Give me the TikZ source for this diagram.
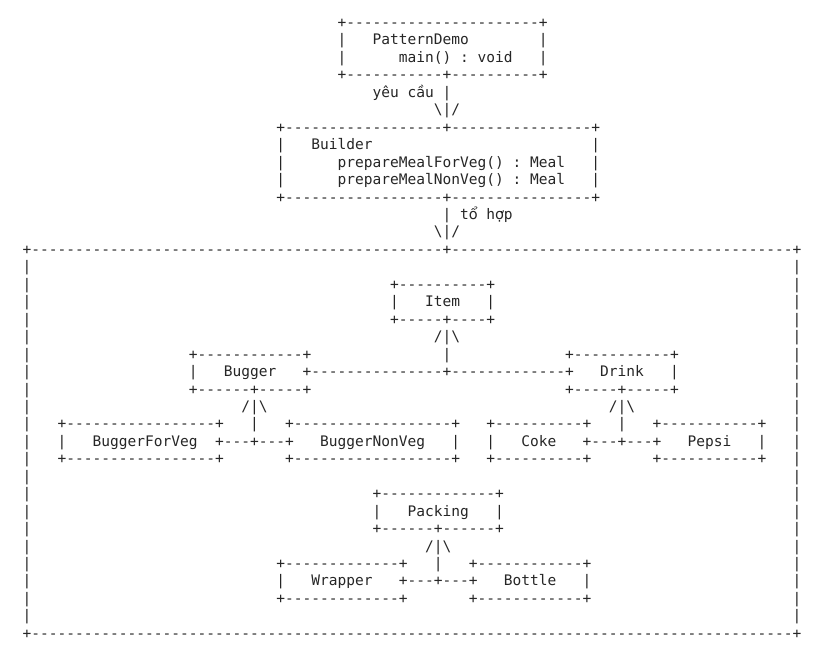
\documentclass[tikz,border=0pt]{standalone}
\usepackage{fontspec}
\setmonofont{DejaVu Sans Mono}
\newfontfamily\vnfont{DejaVu Sans}
\definecolor{ink}{RGB}{38,38,38}
\ExplSyntaxOn
\NewDocumentCommand\dsh{m}{\prg_replicate:nn{#1}{-}}
\ExplSyntaxOff
\newcommand\vnc[1]{\makebox[0.602em][c]{\vnfont #1}}
\newcommand\asc[4]{\node[txt] (#1) at ({22.625+8.75*#2},{27.55+17.45*#3}) {#4};}
\tikzset{txt/.style={anchor=base west,inner sep=0pt,outer sep=0pt,text=ink,
  font=\ttfamily\frenchspacing\fontsize{10.9}{13}\selectfont}}
\begin{document}
\begin{tikzpicture}[x=0.75pt,y=-0.75pt]
\fill[white] (0,0) rectangle (825,660);
\useasboundingbox (0,0) rectangle (825,660);
% PatternDemo
\asc{pdtop}{36}{0}{+\dsh{22}+}
\asc{pdl1}{36}{1}{|}
\asc{pdname}{40}{1}{PatternDemo}
\asc{pdr1}{59}{1}{|}
\asc{pdl2}{36}{2}{|}
\asc{pdmain}{43}{2}{main() : void}
\asc{pdr2}{59}{2}{|}
\asc{pdbot}{36}{3}{+\dsh{11}+\dsh{10}+}
\asc{req}{40}{4}{yêu c\vnc{ầ}u |}
\asc{reqhead}{47}{5}{\textbackslash|/}
% Builder
\asc{bdtop}{29}{6}{+\dsh{18}+\dsh{16}+}
\asc{bdl1}{29}{7}{|}
\asc{bdname}{33}{7}{Builder}
\asc{bdr1}{65}{7}{|}
\asc{bdl2}{29}{8}{|}
\asc{bdm1}{36}{8}{prepareMealForVeg() : Meal}
\asc{bdr2}{65}{8}{|}
\asc{bdl3}{29}{9}{|}
\asc{bdm2}{36}{9}{prepareMealNonVeg() : Meal}
\asc{bdr3}{65}{9}{|}
\asc{bdbot}{29}{10}{+\dsh{18}+\dsh{16}+}
\asc{comp}{48}{11}{| t\vnc{ổ} h\vnc{ợ}p}
\asc{comphead}{47}{12}{\textbackslash|/}
% outer frame
\asc{outtop}{0}{13}{+\dsh{47}+\dsh{39}+}
\foreach \r in {14,...,34}{\asc{ol\r}{0}{\r}{|}\asc{or\r}{88}{\r}{|}}
\asc{outbot}{0}{35}{+\dsh{87}+}
% Item
\asc{ittop}{42}{15}{+\dsh{10}+}
\asc{itl}{42}{16}{|}
\asc{itname}{46}{16}{Item}
\asc{itr}{53}{16}{|}
\asc{itbot}{42}{17}{+\dsh{5}+\dsh{4}+}
\asc{ithead}{47}{18}{/|\textbackslash}
\asc{itstem}{48}{19}{|}
% Bugger and Drink
\asc{bgtop}{19}{19}{+\dsh{12}+}
\asc{drtop}{62}{19}{+\dsh{11}+}
\asc{bgl}{19}{20}{|}
\asc{bgname}{23}{20}{Bugger}
\asc{bgline}{32}{20}{+\dsh{15}+\dsh{13}+}
\asc{drname}{66}{20}{Drink}
\asc{drr}{74}{20}{|}
\asc{bgbot}{19}{21}{+\dsh{6}+\dsh{5}+}
\asc{drbot}{62}{21}{+\dsh{5}+\dsh{5}+}
\asc{bghead}{25}{22}{/|\textbackslash}
\asc{drhead}{67}{22}{/|\textbackslash}
% leaves
\asc{fvtop}{4}{23}{+\dsh{17}+}
\asc{bgstem}{26}{23}{|}
\asc{nvtop}{30}{23}{+\dsh{18}+}
\asc{cktop}{53}{23}{+\dsh{10}+}
\asc{drstem}{68}{23}{|}
\asc{pstop}{72}{23}{+\dsh{11}+}
\asc{fvl}{4}{24}{|}
\asc{fvname}{8}{24}{BuggerForVeg}
\asc{bgjoin}{22}{24}{+\dsh{3}+\dsh{3}+}
\asc{nvname}{34}{24}{BuggerNonVeg}
\asc{nvr}{49}{24}{|}
\asc{ckl}{53}{24}{|}
\asc{ckname}{57}{24}{Coke}
\asc{drjoin}{64}{24}{+\dsh{3}+\dsh{3}+}
\asc{psname}{76}{24}{Pepsi}
\asc{psr}{84}{24}{|}
\asc{fvbot}{4}{25}{+\dsh{17}+}
\asc{nvbot}{30}{25}{+\dsh{18}+}
\asc{ckbot}{53}{25}{+\dsh{10}+}
\asc{psbot}{72}{25}{+\dsh{11}+}
% Packing
\asc{pktop}{40}{27}{+\dsh{13}+}
\asc{pkl}{40}{28}{|}
\asc{pkname}{44}{28}{Packing}
\asc{pkr}{54}{28}{|}
\asc{pkbot}{40}{29}{+\dsh{6}+\dsh{6}+}
\asc{pkhead}{46}{30}{/|\textbackslash}
\asc{wrtop}{29}{31}{+\dsh{13}+}
\asc{pkstem}{47}{31}{|}
\asc{bttop}{51}{31}{+\dsh{12}+}
\asc{wrl}{29}{32}{|}
\asc{wrname}{33}{32}{Wrapper}
\asc{pkjoin}{43}{32}{+\dsh{3}+\dsh{3}+}
\asc{btname}{55}{32}{Bottle}
\asc{btr}{64}{32}{|}
\asc{wrbot}{29}{33}{+\dsh{13}+}
\asc{btbot}{51}{33}{+\dsh{12}+}
\end{tikzpicture}
\end{document}
